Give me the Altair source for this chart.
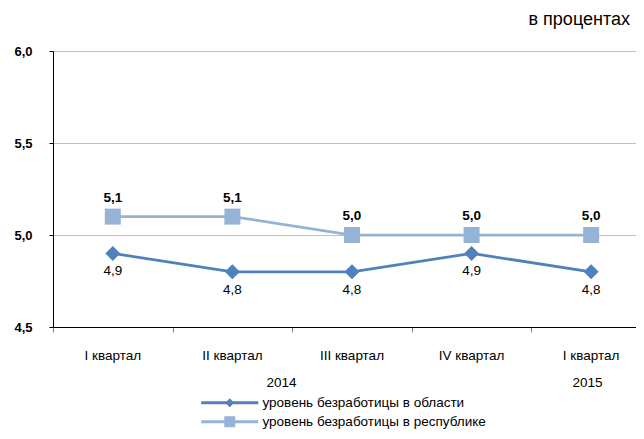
import altair as alt
import pandas as pd

# ---- data ----
quarters = ["I квартал", "II квартал", "III квартал", "IV квартал", "I квартал"]
years = ["2014", "2015"]
year_pos = [1.41, 3.97]
series_names = ["уровень безработицы в области", "уровень безработицы в республике"]
oblast = [4.9, 4.8, 4.8, 4.9, 4.8]
republic = [5.1, 5.1, 5.0, 5.0, 5.0]
colors = ["#4F81BD", "#95B3D7"]

rows = []
for i, v in enumerate(oblast):
    rows.append({"idx": i, "series": series_names[0], "value": v,
                 "label": f"{v:.1f}".replace(".", ",")})
for i, v in enumerate(republic):
    rows.append({"idx": i, "series": series_names[1], "value": v,
                 "label": f"{v:.1f}".replace(".", ",")})
df = pd.DataFrame(rows)
qdf = pd.DataFrame({"idx": list(range(len(quarters))), "q": quarters})
ydf = pd.DataFrame({"idx": year_pos, "y": years})

FONT = "Liberation Sans"
TXT = 13.5

x_scale = alt.Scale(domain=[-0.5, 4.375], nice=False, zero=False)
x_axis = alt.Axis(values=[-0.5, 0.5, 1.5, 2.5, 3.5], labels=False, grid=False,
                  domainColor="#000000", domainWidth=1, tickColor="#808080",
                  tickSize=5, title=None)
y_scale = alt.Scale(domain=[4.5, 6.0], nice=False, zero=False)
y_axis = alt.Axis(values=[4.5, 5.0, 5.5, 6.0],
                  labelExpr="replace(format(datum.value, '.1f'), '.', ',')",
                  grid=True, gridColor="#BFBFBF", domainColor="#000000",
                  tickColor="#000000", tickSize=4, labelPadding=17,
                  labelFont=FONT, labelFontSize=13, labelFontWeight="bold",
                  labelColor="#000000", title=None)

X = alt.X("idx:Q", scale=x_scale, axis=x_axis)
Y = alt.Y("value:Q", scale=y_scale, axis=y_axis)

base = alt.Chart(df)
A = base.transform_filter(alt.datum.series == series_names[0])
B = base.transform_filter(alt.datum.series == series_names[1])

line_a = A.mark_line(strokeWidth=2.75, color=colors[0]).encode(x=X, y=Y)
line_b = B.mark_line(strokeWidth=2.75, color=colors[1]).encode(x=X, y=Y)

pts_a = A.mark_point(shape="diamond", filled=True, size=225, opacity=1,
                     color=colors[0]).encode(x=X, y=Y)
pts_b = B.mark_point(shape="square", filled=True, size=256, opacity=1,
                     color=colors[1]).encode(x=X, y=Y)

lab_a = A.mark_text(dy=18, font=FONT, fontSize=TXT, color="#000000").encode(
    x=X, y=Y, text="label:N")
lab_b = B.mark_text(dy=-19, font=FONT, fontSize=TXT, fontWeight="bold",
                    color="#000000").encode(x=X, y=Y, text="label:N")

qlab = alt.Chart(qdf).mark_text(font=FONT, fontSize=TXT, color="#000000").encode(
    x=alt.X("idx:Q", scale=x_scale, axis=x_axis), y=alt.value(305), text="q:N")

ylab = alt.Chart(ydf).mark_text(font=FONT, fontSize=TXT, color="#000000").encode(
    x=alt.X("idx:Q", scale=x_scale, axis=x_axis), y=alt.value(332), text="y:N")

diamond_path = "M-5.7,-0.3H5.7V0.3H-5.7Z M0,-0.9L0.9,0L0,0.9L-0.9,0Z"
square_path = "M-5.7,-0.3H5.7V0.3H-5.7Z M-1.1,-1.1H1.1V1.1H-1.1Z"

leg = alt.Legend(orient="none", legendX=170, legendY=345, title=None,
                 labelFont=FONT, labelFontSize=TXT, labelColor="#000000",
                 labelLimit=0, symbolSize=100, labelOffset=26, rowPadding=4,
                 padding=0, symbolStrokeWidth=0, direction="vertical")

legend_layer = base.transform_filter("false").mark_point(filled=True, opacity=1).encode(
    x=X, y=Y,
    color=alt.Color("series:N", scale=alt.Scale(domain=series_names, range=colors),
                    legend=leg),
    shape=alt.Shape("series:N", scale=alt.Scale(domain=series_names,
                                                range=[diamond_path, square_path]),
                    legend=leg),
)

chart = alt.layer(line_a, line_b, pts_a, pts_b, lab_a, lab_b, qlab, ylab,
                  legend_layer).properties(
    width=583, height=276,
    title=alt.TitleParams("в процентах", anchor="end", font=FONT, fontSize=18,
                          fontWeight="normal", color="#000000", offset=16, dx=-6),
    autosize=alt.AutoSizeParams(type="none"),
    padding={"left": 45, "top": 43, "right": 0, "bottom": 102},
).configure_view(stroke=None)

chart.save("out.html", embed_options={"renderer": "svg", "actions": False})
